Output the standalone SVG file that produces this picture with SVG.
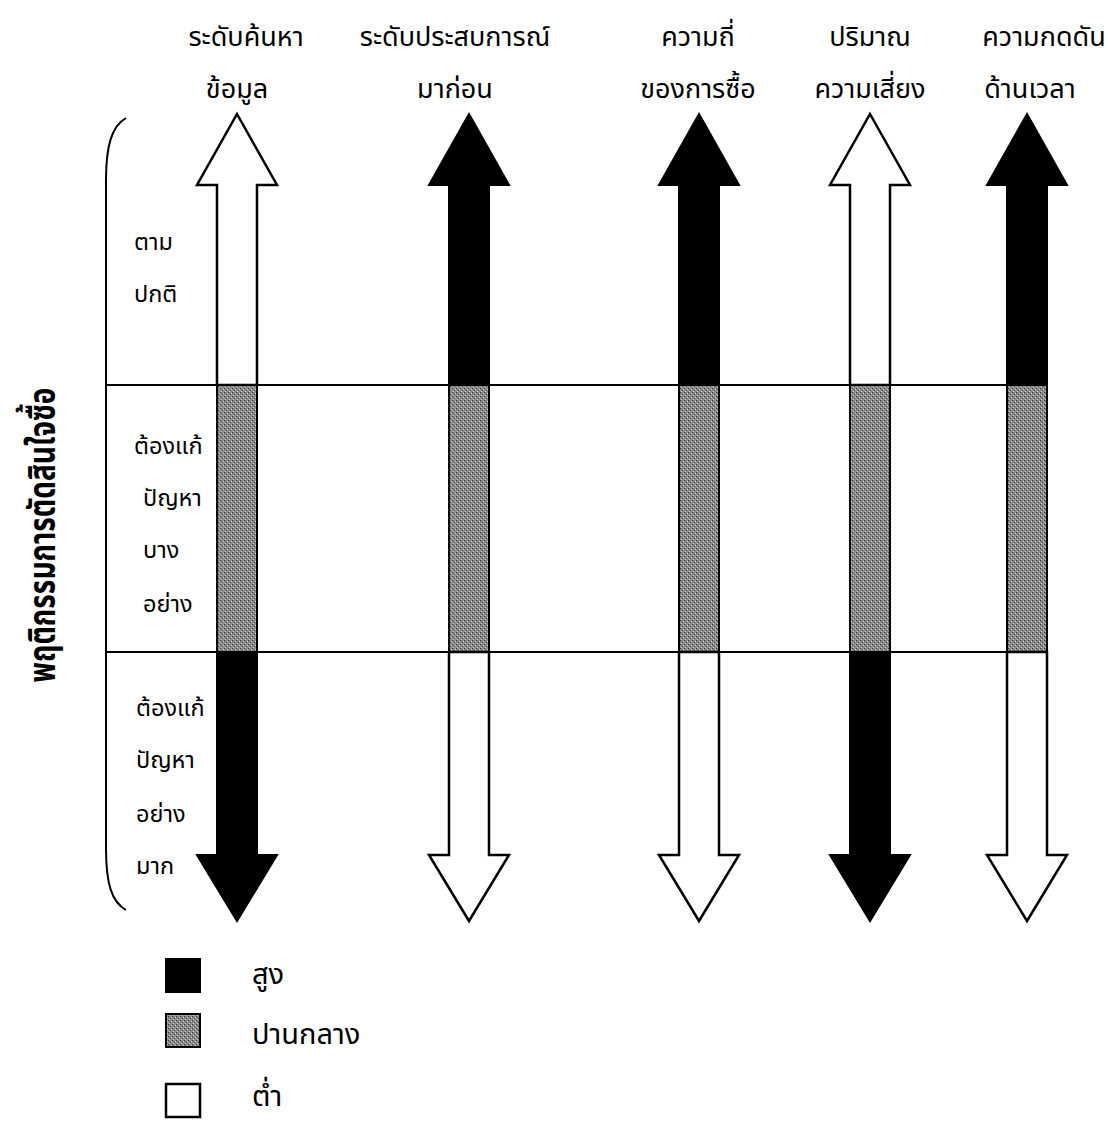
<svg xmlns="http://www.w3.org/2000/svg" width="1108" height="1128" viewBox="0 0 1108 1128">
<defs>
<style>
text{font-family:"Noto Sans Thai","Loma","Garuda","Tahoma","DejaVu Sans",sans-serif;font-size:22px;fill:#000}
.c{text-anchor:middle}
.top{font-size:27px}
.row{font-size:23.5px}
.leg{font-size:29px}
.blk{fill:#000;stroke:#000;stroke-width:2;stroke-linejoin:miter}
.wht{fill:#fff;stroke:#000;stroke-width:2.5;stroke-linejoin:miter}
.gry{fill:url(#ht);stroke:#000;stroke-width:2}
.div{stroke:#000;stroke-width:2;fill:none}
.brace{stroke:#000;stroke-width:2;fill:none}
.title{font-weight:bold;font-size:38px}
</style>
<pattern id="ht" width="4" height="4" patternUnits="userSpaceOnUse">
<rect width="4" height="4" fill="#8e8e8e"/>
<rect x="0" y="0" width="1" height="1" fill="#333"/>
<rect x="2" y="2" width="1" height="1" fill="#444"/>
<rect x="1" y="1" width="1" height="1" fill="#666"/>
<rect x="3" y="1" width="1" height="1" fill="#d0d0d0"/>
<rect x="1" y="3" width="1" height="1" fill="#c8c8c8"/>
</pattern>
</defs>
<rect width="1108" height="1128" fill="#fff"/>

<g id="labels">
<text class="c top" x="246" y="46">ระดับค้นหา</text>
<text class="c top" x="237" y="98">ข้อมูล</text>
<text class="c top" x="455" y="46">ระดับประสบการณ์</text>
<text class="c top" x="455" y="98">มาก่อน</text>
<text class="c top" x="698" y="46">ความถี่</text>
<text class="c top" x="698" y="98">ของการซื้อ</text>
<text class="c top" x="870" y="46">ปริมาณ</text>
<text class="c top" x="870" y="98">ความเสี่ยง</text>
<text class="c top" x="1044" y="46">ความกดดัน</text>
<text class="c top" x="1030" y="98">ด้านเวลา</text>
</g>

<g id="title">
<text class="c title" transform="translate(55,535) rotate(-90)" textLength="295" lengthAdjust="spacingAndGlyphs">พฤติกรรมการตัดสินใจซื้อ</text>
</g>

<g id="dividers">
<path class="brace" d="M126 118 C112 126 106 145 106 180 L106 848 C106 885 112 902 126 910"/>
<line class="div" x1="106" y1="385" x2="1047" y2="385"/>
<line class="div" x1="106" y1="652" x2="1047" y2="652"/>
</g>

<g id="row-labels">
<text class="row" x="134" y="250">ตาม</text>
<text class="row" x="134" y="302">ปกติ</text>
<text class="row" x="134" y="454">ต้องแก้</text>
<text class="row" x="143" y="506">ปัญหา</text>
<text class="row" x="143" y="558">บาง</text>
<text class="row" x="143" y="612">อย่าง</text>
<text class="row" x="136" y="716">ต้องแก้</text>
<text class="row" x="136" y="768">ปัญหา</text>
<text class="row" x="136" y="822">อย่าง</text>
<text class="row" x="136" y="874">มาก</text>
</g>

<g id="arrow-search">
<polygon class="wht" points="237,114 277,185 257,185 257,385 217,385 217,185 197,185"/>
<rect class="gry" x="217" y="385" width="40" height="267"/>
<polygon class="blk" points="217,652 257,652 257,855 277,855 237,921 197,855 217,855"/>
</g>

<g id="arrow-experience">
<polygon class="blk" points="469,114 509,185 489,185 489,385 449,385 449,185 429,185"/>
<rect class="gry" x="449" y="385" width="40" height="267"/>
<polygon class="wht" points="449,652 489,652 489,855 509,855 469,921 429,855 449,855"/>
</g>

<g id="arrow-frequency">
<polygon class="blk" points="699,114 739,185 719,185 719,385 679,385 679,185 659,185"/>
<rect class="gry" x="679" y="385" width="40" height="267"/>
<polygon class="wht" points="679,652 719,652 719,855 739,855 699,921 659,855 679,855"/>
</g>

<g id="arrow-risk">
<polygon class="wht" points="870,114 910,185 890,185 890,385 850,385 850,185 830,185"/>
<rect class="gry" x="850" y="385" width="40" height="267"/>
<polygon class="blk" points="850,652 890,652 890,855 910,855 870,921 830,855 850,855"/>
</g>

<g id="arrow-time">
<polygon class="blk" points="1027,114 1067,185 1047,185 1047,385 1007,385 1007,185 987,185"/>
<rect class="gry" x="1007" y="385" width="40" height="267"/>
<polygon class="wht" points="1007,652 1047,652 1047,855 1067,855 1027,921 987,855 1007,855"/>
</g>

<g id="legend">
<rect class="blk" x="166" y="959" width="34" height="33"/>
<rect class="gry" x="166" y="1014" width="34" height="33"/>
<rect class="wht" x="166" y="1084" width="34" height="33"/>
<text class="leg" x="252" y="984">สูง</text>
<text class="leg" x="252" y="1044">ปานกลาง</text>
<text class="leg" x="252" y="1106">ต่ำ</text>
</g>
</svg>
